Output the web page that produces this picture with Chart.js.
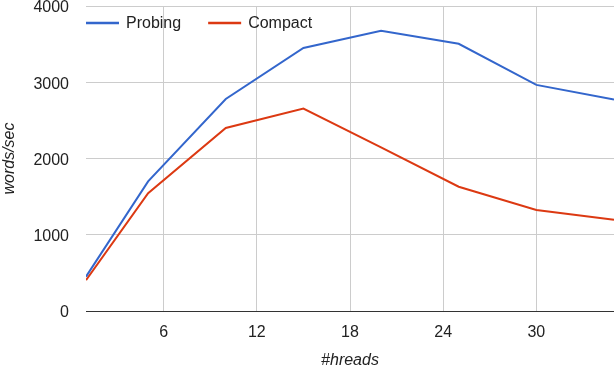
<!DOCTYPE html>
<html>
<head>
<meta charset="utf-8">
<script src="https://cdn.jsdelivr.net/npm/chart.js@4"></script>
<style>
  html, body { margin: 0; padding: 0; background: #fff; }
  #wrap { width: 614px; height: 366px; }
</style>
</head>
<body>
<div id="wrap"><canvas id="chartThreads"></canvas></div>
<script>
// === Throughput vs threads ===
const threads = [1, 5, 10, 15, 20, 25, 30, 35];
const probing = [450, 1700, 2780, 3450, 3675, 3505, 2965, 2775];
const compact = [405, 1545, 2400, 2655, 2145, 1630, 1325, 1195];
const xTicks = [6, 12, 18, 24, 30];
const yTicks = [0, 1000, 2000, 3000, 4000];

const toPoints = (ys) => threads.map((t, i) => ({ x: t, y: ys[i] }));

const FONT = '"Liberation Sans", Arial, sans-serif';
Chart.defaults.font.family = FONT;
Chart.defaults.font.size = 16;
Chart.defaults.color = '#222';

// legend drawn inside the plot, top-left, like the original
const insideLegend = {
  id: 'insideLegend',
  afterDraw(chart) {
    const c = chart.ctx;
    const area = chart.chartArea;
    let x = area.left;
    const y = 23;
    c.save();
    c.font = '16px ' + FONT;
    c.textBaseline = 'middle';
    c.textAlign = 'left';
    chart.data.datasets.forEach(ds => {
      c.strokeStyle = ds.borderColor;
      c.lineWidth = 2.5;
      c.beginPath();
      c.moveTo(x, y);
      c.lineTo(x + 33, y);
      c.stroke();
      c.fillStyle = '#222';
      c.fillText(ds.label, x + 40, y + 1);
      x += 40 + c.measureText(ds.label).width + 27;
    });
    c.restore();
  }
};

const ctx = document.getElementById('chartThreads');
new Chart(ctx, {
  type: 'line',
  data: {
    datasets: [{
      label: 'Probing',
      data: toPoints(probing),
      borderColor: '#3366CC',
      backgroundColor: '#3366CC',
      borderWidth: 2,
      pointRadius: 0,
      tension: 0
    }, {
      label: 'Compact',
      data: toPoints(compact),
      borderColor: '#DC3912',
      backgroundColor: '#DC3912',
      borderWidth: 2,
      pointRadius: 0,
      tension: 0
    }]
  },
  options: {
    responsive: true,
    maintainAspectRatio: false,
    animation: false,
    layout: { padding: { top: 6, right: 0, left: 0, bottom: 0 } },
    scales: {
      x: {
        type: 'linear',
        min: 1,
        max: 35,
        afterBuildTicks: (scale) => { scale.ticks = xTicks.map(v => ({ value: v })); },
        afterFit: (scale) => { scale.height = 55; scale.paddingLeft = 0; scale.paddingRight = 0; },
        grid: { color: '#cccccc', drawTicks: false },
        border: { display: true, color: '#333333', width: 1 },
        ticks: { padding: 12, color: '#222' },
        title: {
          display: true,
          text: '#hreads',
          font: { style: 'italic', size: 16 },
          color: '#222',
          padding: { top: 0, bottom: -4 }
        }
      },
      y: {
        min: 0,
        max: 4000,
        afterBuildTicks: (scale) => { scale.ticks = yTicks.map(v => ({ value: v })); },
        afterFit: (scale) => { scale.width = 86; scale.paddingTop = 0; scale.paddingBottom = 0; },
        grid: {
          color: (c) => c.tick && c.tick.value === 0 ? '#333333' : '#cccccc',
          drawTicks: false
        },
        border: { display: false },
        ticks: { padding: 17, color: '#222', labelOffset: 2, callback: (v) => String(v) },
        title: {
          display: true,
          text: 'words/sec',
          font: { style: 'italic', size: 16 },
          color: '#222',
          padding: { top: 0, bottom: 0 }
        }
      }
    },
    plugins: {
      legend: { display: false },
      tooltip: { enabled: false }
    }
  },
  plugins: [insideLegend]
});
</script>
</body>
</html>
